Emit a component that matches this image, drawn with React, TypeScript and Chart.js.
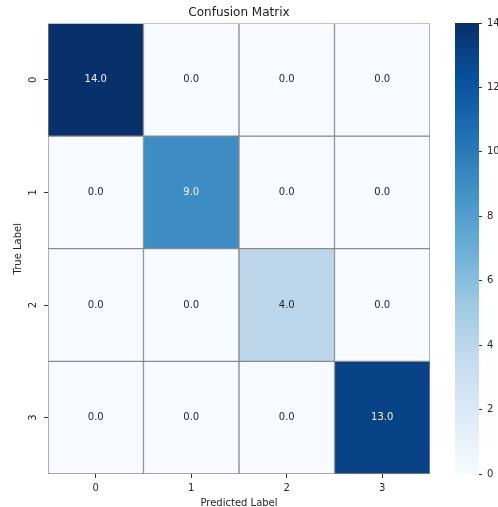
import React, { useEffect, useRef } from "react";
import { Chart, registerables } from "chart.js";

Chart.register(...registerables);

const predictedLabels = ["0", "1", "2", "3"];
const trueLabels = ["0", "1", "2", "3"];
const row0 = [14, 0, 0, 0];
const row1 = [0, 9, 0, 0];
const row2 = [0, 0, 4, 0];
const row3 = [0, 0, 0, 13];
const matrixRows = [row0, row1, row2, row3];
const colorMin = 0;
const colorMax = 14;
const colorStep = 2;

const FONT = "'DejaVu Sans', sans-serif";

const blues: [number, number, number][] = [
  [247, 251, 255],
  [222, 235, 247],
  [198, 219, 239],
  [158, 202, 225],
  [107, 174, 214],
  [66, 146, 198],
  [33, 113, 181],
  [8, 81, 156],
  [8, 48, 107],
];

function bluesAt(t: number): string {
  const c = Math.max(0, Math.min(1, t)) * (blues.length - 1);
  const i = Math.min(Math.floor(c), blues.length - 2);
  const f = c - i;
  const a = blues[i];
  const b = blues[i + 1];
  const r = Math.round(a[0] + (b[0] - a[0]) * f);
  const g = Math.round(a[1] + (b[1] - a[1]) * f);
  const bl = Math.round(a[2] + (b[2] - a[2]) * f);
  return `rgb(${r},${g},${bl})`;
}

function colorFor(v: number) {
  return bluesAt((v - colorMin) / (colorMax - colorMin));
}

const valueLabelPlugin = {
  id: "valueLabels",
  afterDatasetsDraw(chart: any) {
    const ctx = chart.ctx;
    ctx.save();
    ctx.font = `10px ${FONT}`;
    ctx.textAlign = "center";
    ctx.textBaseline = "middle";
    chart.data.datasets.forEach((ds: any, di: number) => {
      const meta = chart.getDatasetMeta(di);
      meta.data.forEach((el: any, i: number) => {
        const v = ds.values[i];
        const p = el.getCenterPoint();
        ctx.fillStyle = (v - colorMin) / (colorMax - colorMin) > 0.5 ? "#f2f2f2" : "#262626";
        ctx.fillText(v.toFixed(1), p.x, p.y);
      });
    });
    ctx.restore();
  },
};

// Rotated y-axis tick labels (read bottom-to-top), placed from the y scale's own ticks
const yTickLabelPlugin = {
  id: "yTickLabels",
  afterDraw(chart: any) {
    const scale = chart.scales.y;
    const ctx = chart.ctx;
    ctx.save();
    ctx.font = `10px ${FONT}`;
    ctx.fillStyle = "#262626";
    ctx.textAlign = "center";
    ctx.textBaseline = "middle";
    scale.ticks.forEach((t: any, i: number) => {
      const y = scale.getPixelForTick(i);
      const x = scale.right - 15;
      ctx.save();
      ctx.translate(x, y);
      ctx.rotate(-Math.PI / 2);
      ctx.fillText(trueLabels[t.value] ?? "", 0, 0);
      ctx.restore();
    });
    ctx.restore();
  },
};

export default function App() {
  const mainRef = useRef<HTMLCanvasElement>(null);
  const barRef = useRef<HTMLCanvasElement>(null);

  useEffect(() => {
    Chart.defaults.font.family = FONT;
    Chart.defaults.color = "#262626";

    const datasets = matrixRows.map((row, r) => ({
      label: trueLabels[r],
      values: row,
      data: row.map(() => [r - 0.5, r + 0.5]),
      backgroundColor: row.map((v) => colorFor(v)),
      borderColor: "#8a8a8a",
      borderWidth: 1,
      borderSkipped: false,
      barPercentage: 1,
      categoryPercentage: 1,
      grouped: false,
    }));

    const main = new Chart(mainRef.current!, {
      type: "bar",
      data: { labels: predictedLabels, datasets: datasets as any },
      options: {
        animation: false,
        responsive: false,
        maintainAspectRatio: false,
        layout: { padding: { left: 0, right: 68, top: 0, bottom: 0 } },
        plugins: {
          legend: { display: false },
          tooltip: { enabled: false },
          title: {
            display: true,
            text: "Confusion Matrix",
            fullSize: false,
            color: "#1a1a1a",
            font: { size: 12, weight: "normal", family: FONT },
            padding: { top: 6, bottom: 3 },
          },
        },
        scales: {
          x: {
            type: "category",
            offset: true,
            border: { display: false },
            grid: { drawOnChartArea: false, offset: false, tickLength: 4, color: "#333" },
            ticks: { padding: 4, font: { size: 10 }, color: "#262626" },
            title: {
              display: true,
              text: "Predicted Label",
              font: { size: 10 },
              color: "#262626",
              padding: { top: 0, bottom: -2 },
            },
            afterFit: (s: any) => {
              s.height = 33;
            },
          },
          y: {
            type: "linear",
            reverse: true,
            min: -0.5,
            max: 3.5,
            border: { display: false },
            grid: { drawOnChartArea: false, tickLength: 4, color: "#333" },
            ticks: { display: false },
            afterBuildTicks: (s: any) => {
              s.ticks = trueLabels.map((_, i) => ({ value: i }));
            },
            title: {
              display: true,
              text: "True Label",
              font: { size: 10 },
              color: "#262626",
              padding: { top: 12, bottom: 0 },
            },
            afterFit: (s: any) => {
              s.width = 48;
            },
          },
        },
      },
      plugins: [valueLabelPlugin, yTickLabelPlugin],
    });

    const bar = new Chart(barRef.current!, {
      type: "bar",
      data: {
        labels: ["scale"],
        datasets: [
          {
            data: [[colorMin, colorMax]] as any,
            barPercentage: 1,
            categoryPercentage: 1,
            borderWidth: 0,
            backgroundColor: (ctx: any) => {
              const area = ctx.chart.chartArea;
              if (!area) return colorFor(colorMax);
              const g = ctx.chart.ctx.createLinearGradient(0, area.bottom, 0, area.top);
              blues.forEach((_, i) => {
                g.addColorStop(i / (blues.length - 1), bluesAt(i / (blues.length - 1)));
              });
              return g;
            },
          },
        ],
      },
      options: {
        animation: false,
        responsive: false,
        maintainAspectRatio: false,
        layout: { padding: { left: 455, right: 0, top: 23, bottom: 33 } },
        plugins: { legend: { display: false }, tooltip: { enabled: false }, title: { display: false } },
        scales: {
          x: { display: false },
          y: {
            position: "right",
            min: colorMin,
            max: colorMax,
            border: { display: false },
            grid: { drawOnChartArea: false, tickLength: 3, color: "#333" },
            ticks: { stepSize: colorStep, padding: 5, font: { size: 10 }, color: "#262626" },
            afterFit: (s: any) => {
              s.width = 19;
            },
          },
        },
      },
    });

    return () => {
      main.destroy();
      bar.destroy();
    };
  }, []);

  return (
    <div style={{ position: "fixed", left: 0, top: 0, width: 498, height: 507, background: "#fff" }}>
      <canvas ref={mainRef} width={498} height={507} style={{ position: "absolute", left: 0, top: 0 }} />
      <canvas
        ref={barRef}
        width={498}
        height={507}
        style={{ position: "absolute", left: 0, top: 0, pointerEvents: "none" }}
      />
    </div>
  );
}
